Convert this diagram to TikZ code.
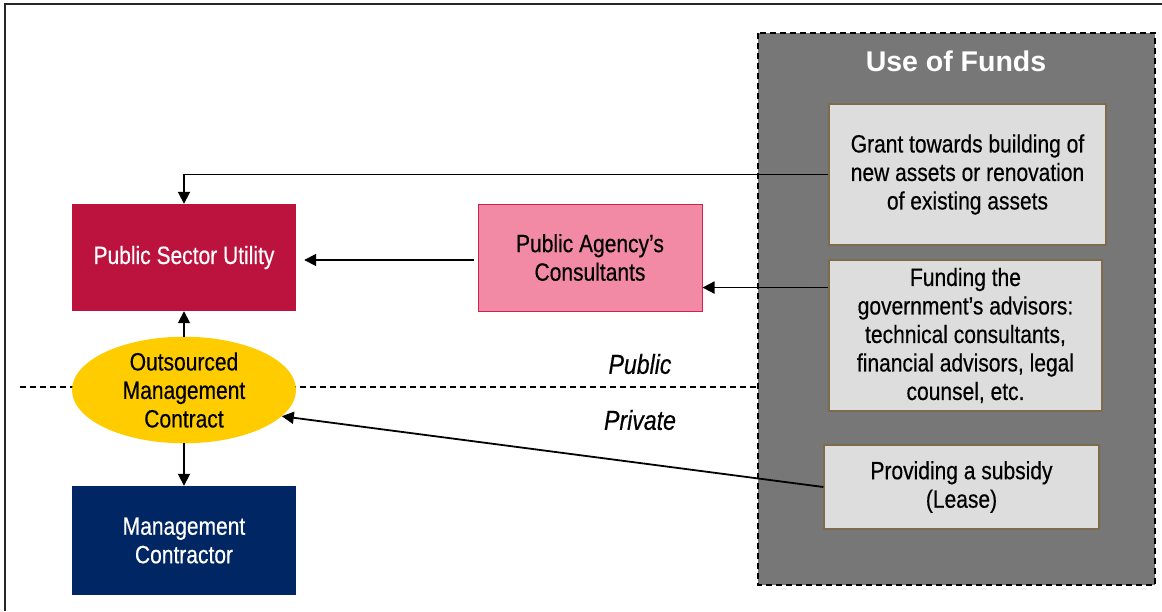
\documentclass[tikz,border=0pt]{standalone}
\usepackage{fontspec}
\setmainfont[FakeStretch=0.84,FakeBold=0.4]{Liberation Sans}
\newfontfamily\titlefont{Liberation Sans}
\usetikzlibrary{arrows.meta,shapes.geometric,calc}
\definecolor{psu}{HTML}{BC133E}
\definecolor{oc}{HTML}{FFCC00}
\definecolor{navy}{HTML}{002663}
\definecolor{pink}{HTML}{F28AA6}
\definecolor{pinkb}{HTML}{C8244E}
\definecolor{fundsgray}{HTML}{777777}
\definecolor{lightbox}{HTML}{DDDDDD}
\definecolor{boxedge}{HTML}{7D6B4B}
\tikzset{
  txt/.style={font=\fontsize{25}{28.5}\selectfont, align=center, inner sep=0pt},
  utilbox/.style={txt, rectangle, minimum width=224pt, minimum height=107pt},
  usebox/.style={txt, rectangle, fill=lightbox, draw=boxedge, line width=1.2pt},
  arr/.style={line width=1.8pt, -{Triangle[length=12pt,width=12pt]}},
  sidelabel/.style={font=\fontsize{27.5}{30}\selectfont\itshape, inner sep=0pt},
}
\begin{document}
\begin{tikzpicture}[x=1pt,y=-1pt]
\useasboundingbox (0,0) rectangle (1162,611);
% frame
\draw[line width=1.3pt, black!85] (5,611) -- (5,4) -- (1162,4);
% public/private divider
\draw[line width=1.3pt, dash pattern=on 6pt off 4pt] (20,387) -- (758,387);
\node[sidelabel] (pub) at (640,364) {Public};
\node[sidelabel] (priv) at (640,420) {Private};
% use of funds container
\draw[fill=fundsgray, line width=1.2pt, dash pattern=on 6pt off 4pt] (758,33) rectangle (1155,585);
\node[font=\titlefont\bfseries\fontsize{28.5}{32}\selectfont, text=white, inner sep=0pt] (uof) at (956,61) {Use of Funds};
\node[usebox, minimum width=277pt, minimum height=141pt] (grant) at (967.5,174.5)
  {Grant towards building of\\new assets or renovation\\of existing assets};
\node[usebox, minimum width=273pt, minimum height=151pt] (fund) at (965.5,335.5)
  {Funding the\\government’s advisors:\\technical consultants,\\financial advisors, legal\\counsel, etc.};
\node[usebox, minimum width=275pt, minimum height=84pt] (sub) at (961.5,487)
  {Providing a subsidy\\(Lease)};
% left column
\node[utilbox, fill=psu, text=white] (psu) at (184,257.5) {Public Sector Utility};
\node[txt, ellipse, fill=oc, minimum width=224pt, minimum height=106pt] (oc) at (184,390)
  {Outsourced\\Management\\Contract};
\node[utilbox, fill=navy, text=white, minimum height=109pt] (mc) at (184,540.5) {Management\\Contractor};
\node[utilbox, fill=pink, draw=pinkb, line width=1pt] (cons) at (590,257.5) {Public Agency’s\\Consultants};
% connectors
\draw[arr] (grant.west) -| (psu.north);
\draw[arr, shorten <=4pt, shorten >=8pt] (cons.west |- 0,260) -- (psu.east |- 0,260);
\coordinate (fa) at ($(fund.north west)!0.185!(fund.south west)$);
\draw[arr] (fa) -- (fa -| cons.east);
\draw[arr] (oc.north) -- (psu.south);
\draw[arr] (oc.south) -- (mc.north);
\draw[arr] (sub.west) -- (oc.-15);
\end{tikzpicture}
\end{document}
